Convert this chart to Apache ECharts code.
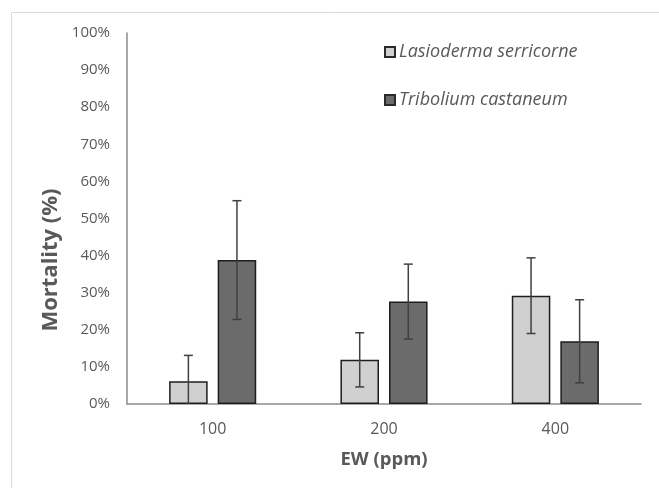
<!DOCTYPE html>
<html>
<head>
<meta charset="utf-8">
<script src="https://cdn.jsdelivr.net/npm/echarts@6/dist/echarts.min.js"></script>
<style>html,body{margin:0;padding:0;background:#fff}#c{width:659px;height:488px}</style>
</head>
<body>
<div id="c"></div>
<script>
var categories = ['100', '200', '400'];
var seriesNames = ['Lasioderma serricorne', 'Tribolium castaneum'];
var lasioderma = [6.1, 11.9, 29.2];
var lasiodermaErr = [7.0, 7.3, 10.2];
var tribolium = [38.8, 27.6, 16.9];
var triboliumErr = [16.0, 10.1, 11.2];

var FONT = 'Open Sans';
var TXT = '#595959';
var BAR_W = 0.225;
var BAR_GAP = 0.26;

var chart = echarts.init(document.getElementById('c'), null, {renderer: 'canvas'});

function errSeries(vals, errs, side) {
  var data = vals.map(function (v, i) { return [i, v, errs[i]]; });
  return {
    type: 'custom',
    name: 'err' + side,
    z: 10,
    silent: true,
    data: data,
    encode: {x: 0, y: 1},
    renderItem: function (params, api) {
      var i = api.value(0), v = api.value(1), e = api.value(2);
      var cw = api.size([1, 0])[0];
      var bw = cw * BAR_W;
      var off = side * (bw + bw * BAR_GAP) / 2;
      var top = api.coord([i, v + e]);
      var bot = api.coord([i, Math.max(0, v - e)]);
      var x = top[0] + off;
      var cap = 4.5;
      var style = {stroke: '#404040', lineWidth: 1.5};
      var children = [
        {type: 'line', shape: {x1: x, y1: top[1], x2: x, y2: bot[1]}, style: style},
        {type: 'line', shape: {x1: x - cap, y1: top[1], x2: x + cap, y2: top[1]}, style: style}
      ];
      if (v - e > 0) {
        children.push({type: 'line', shape: {x1: x - cap, y1: bot[1], x2: x + cap, y2: bot[1]}, style: style});
      }
      return {type: 'group', children: children};
    }
  };
}

var option = {
  backgroundColor: '#fff',
  animation: false,
  grid: {left: 127, right: 18, top: 33, bottom: 84, containLabel: false},
  legend: {
    data: seriesNames,
    orient: 'vertical',
    left: 379,
    top: 37,
    icon: 'rect',
    itemWidth: 10,
    itemHeight: 10,
    itemGap: 28,
    itemStyle: {borderColor: '#2a2a2a', borderWidth: 2},
    textStyle: {fontFamily: FONT, fontSize: 18, fontStyle: 'italic', color: TXT, lineHeight: 20, padding: [0, 0, 0, -1]}
  },
  xAxis: {
    type: 'category',
    data: categories,
    name: 'EW (ppm)',
    nameLocation: 'middle',
    nameGap: 46,
    nameTextStyle: {fontFamily: FONT, fontSize: 18.5, fontWeight: 'bold', color: TXT},
    axisLine: {lineStyle: {color: '#8c8c8c', width: 1.5}},
    axisTick: {show: false},
    axisLabel: {fontFamily: FONT, fontSize: 16, color: TXT, margin: 17}
  },
  yAxis: {
    type: 'value',
    min: 0,
    max: 100,
    interval: 10,
    axisLine: {show: true, lineStyle: {color: '#8c8c8c', width: 1.5}},
    axisTick: {show: false},
    splitLine: {show: false},
    axisLabel: {fontFamily: FONT, fontSize: 15, color: TXT, margin: 17, formatter: '{value}%'}
  },
  graphic: [
    {type: 'rect', shape: {x: 11.5, y: 12.5, width: 700, height: 600}, style: {fill: 'none', stroke: '#d9d9d9', lineWidth: 1}, silent: true},
    {type: 'text', x: 51, y: 260, rotation: Math.PI / 2,
     style: {text: 'Mortality (%)', fontFamily: FONT, fontSize: 22, fontWeight: 'bold', fill: TXT, align: 'center', verticalAlign: 'middle'}}
  ],
  series: [
    {
      type: 'bar', name: seriesNames[0], data: lasioderma,
      barWidth: (BAR_W * 100) + '%', barGap: (BAR_GAP * 100) + '%',
      itemStyle: {color: '#d0d0d0', borderColor: '#1e1e1e', borderWidth: 1.5}
    },
    {
      type: 'bar', name: seriesNames[1], data: tribolium,
      barWidth: (BAR_W * 100) + '%', barGap: (BAR_GAP * 100) + '%',
      itemStyle: {color: '#6b6b6b', borderColor: '#1e1e1e', borderWidth: 1.5}
    },
    errSeries(lasioderma, lasiodermaErr, -1),
    errSeries(tribolium, triboliumErr, 1)
  ]
};
chart.setOption(option);
</script>
</body>
</html>
